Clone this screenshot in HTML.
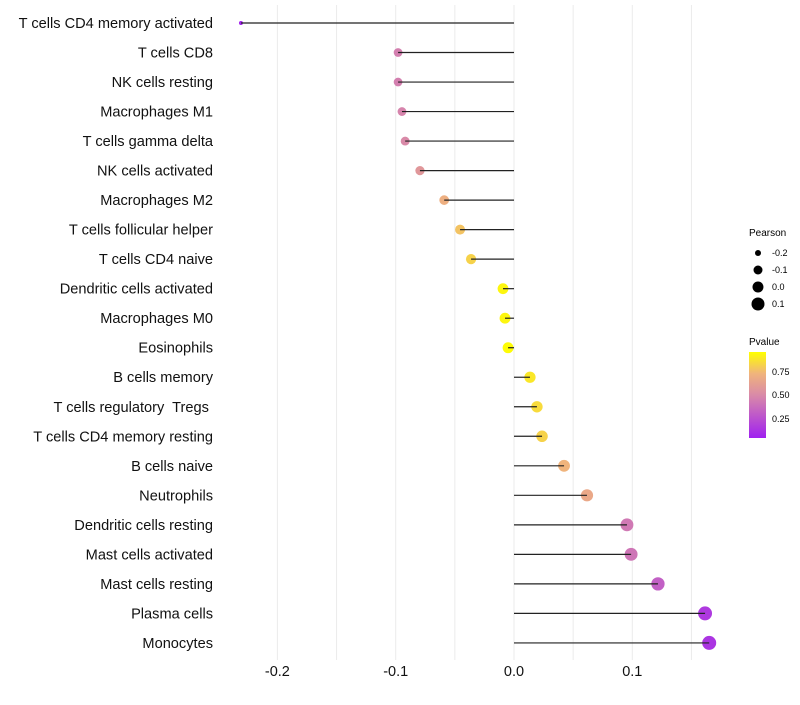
<!DOCTYPE html>
<html><head><meta charset="utf-8"><style>
body{margin:0;background:#fff;font-family:"Liberation Sans",sans-serif}
</style></head><body>
<svg id="c" width="800" height="700" xmlns="http://www.w3.org/2000/svg">
<defs><linearGradient id="pg" x1="0" y1="1" x2="0" y2="0">
<stop offset="0" stop-color="#a020f0"/><stop offset="0.5" stop-color="#d98aa8"/><stop offset="0.75" stop-color="#f0b47c"/><stop offset="1" stop-color="#ffff00"/></linearGradient></defs>
<g id="grid"></g><g id="marks"></g><g id="labels"></g>
<g font-size="9" fill="#000">
<text x="749" y="236" font-size="10">Pearson</text>
<circle cx="758" cy="253" r="3"/><text x="772" y="256">-0.2</text>
<circle cx="758" cy="270" r="4.5"/><text x="772" y="273">-0.1</text>
<circle cx="758" cy="287" r="5.5"/><text x="772" y="290">0.0</text>
<circle cx="758" cy="304" r="6.5"/><text x="772" y="307">0.1</text>
</g>
<g font-size="9">
<text x="749" y="345" font-size="10">Pvalue</text>
<rect x="749" y="352" width="17" height="86" fill="url(#pg)"/>
<text x="772" y="375">0.75</text><text x="772" y="398">0.50</text><text x="772" y="422">0.25</text>
</g>
</svg>
<script>
const categories=["T cells CD4 memory activated","T cells CD8","NK cells resting","Macrophages M1","T cells gamma delta","NK cells activated","Macrophages M2","T cells follicular helper","T cells CD4 naive","Dendritic cells activated","Macrophages M0","Eosinophils","B cells memory","T cells regulatory  Tregs ","T cells CD4 memory resting","B cells naive","Neutrophils","Dendritic cells resting","Mast cells activated","Mast cells resting","Plasma cells","Monocytes"];
const pearson=[-0.2308,-0.098,-0.098,-0.0947,-0.092,-0.0795,-0.059,-0.0456,-0.0363,-0.0093,-0.0076,-0.005,0.0135,0.0194,0.0237,0.0423,0.0617,0.0955,0.099,0.1217,0.1615,0.165];
const pvalue=[0.02,0.45,0.45,0.47,0.5,0.58,0.72,0.8,0.85,0.97,0.97,0.99,0.92,0.88,0.85,0.75,0.68,0.42,0.4,0.3,0.12,0.1];
const xTicks=[-0.2,-0.1,0.0,0.1];
const xTickLabels=["-0.2","-0.1","0.0","0.1"];
const NS="http://www.w3.org/2000/svg";
const X=v=>514+v*1183;
const Y=i=>23+i*29.52;
const R=v=>Math.sqrt(4+Math.max(0,v+0.23)*114);
function lerp(a,b,t){return a.map((x,i)=>Math.round(x+(b[i]-x)*t));}
const stops=[[0,[160,32,240]],[0.5,[217,138,168]],[0.75,[240,180,124]],[1,[255,255,0]]];
function col(p){for(let k=1;k<stops.length;k++){if(p<=stops[k][0]){const t=(p-stops[k-1][0])/(stops[k][0]-stops[k-1][0]);return "rgb("+lerp(stops[k-1][1],stops[k][1],t).join(",")+")";}}return "rgb(255,255,0)";}
function mk(t,a,p){const e=document.createElementNS(NS,t);for(const k in a)e.setAttribute(k,a[k]);p.appendChild(e);return e;}
const grid=document.getElementById('grid'),marks=document.getElementById('marks'),labels=document.getElementById('labels');
[-0.2,-0.15,-0.1,-0.05,0,0.05,0.1,0.15].forEach(v=>{
const l=mk('line',{x1:X(v),x2:X(v),y1:5,y2:660,stroke:'#ebebeb','stroke-width':1},grid);


});
xTicks.forEach((v,i)=>{
const t=mk('text',{x:X(v),y:676,'text-anchor':'middle','font-size':14.5,fill:'#111'},labels);
t.textContent=xTickLabels[i];


});
categories.forEach((c,i)=>{
const y=Y(i),v=pearson[i];
const t=mk('text',{x:213,y:y+5,'text-anchor':'end','font-size':14.6,fill:'#111'},labels);
t.setAttribute('xml:space','preserve');
t.style.whiteSpace='pre';
t.textContent=c;


const p=mk('circle',{cx:X(v),cy:y,r:R(v),fill:col(pvalue[i])},marks);


const s=mk('line',{x1:X(0),x2:X(v),y1:y,y2:y,stroke:'#222','stroke-width':1.2},marks);


});
</script>
</body></html>
